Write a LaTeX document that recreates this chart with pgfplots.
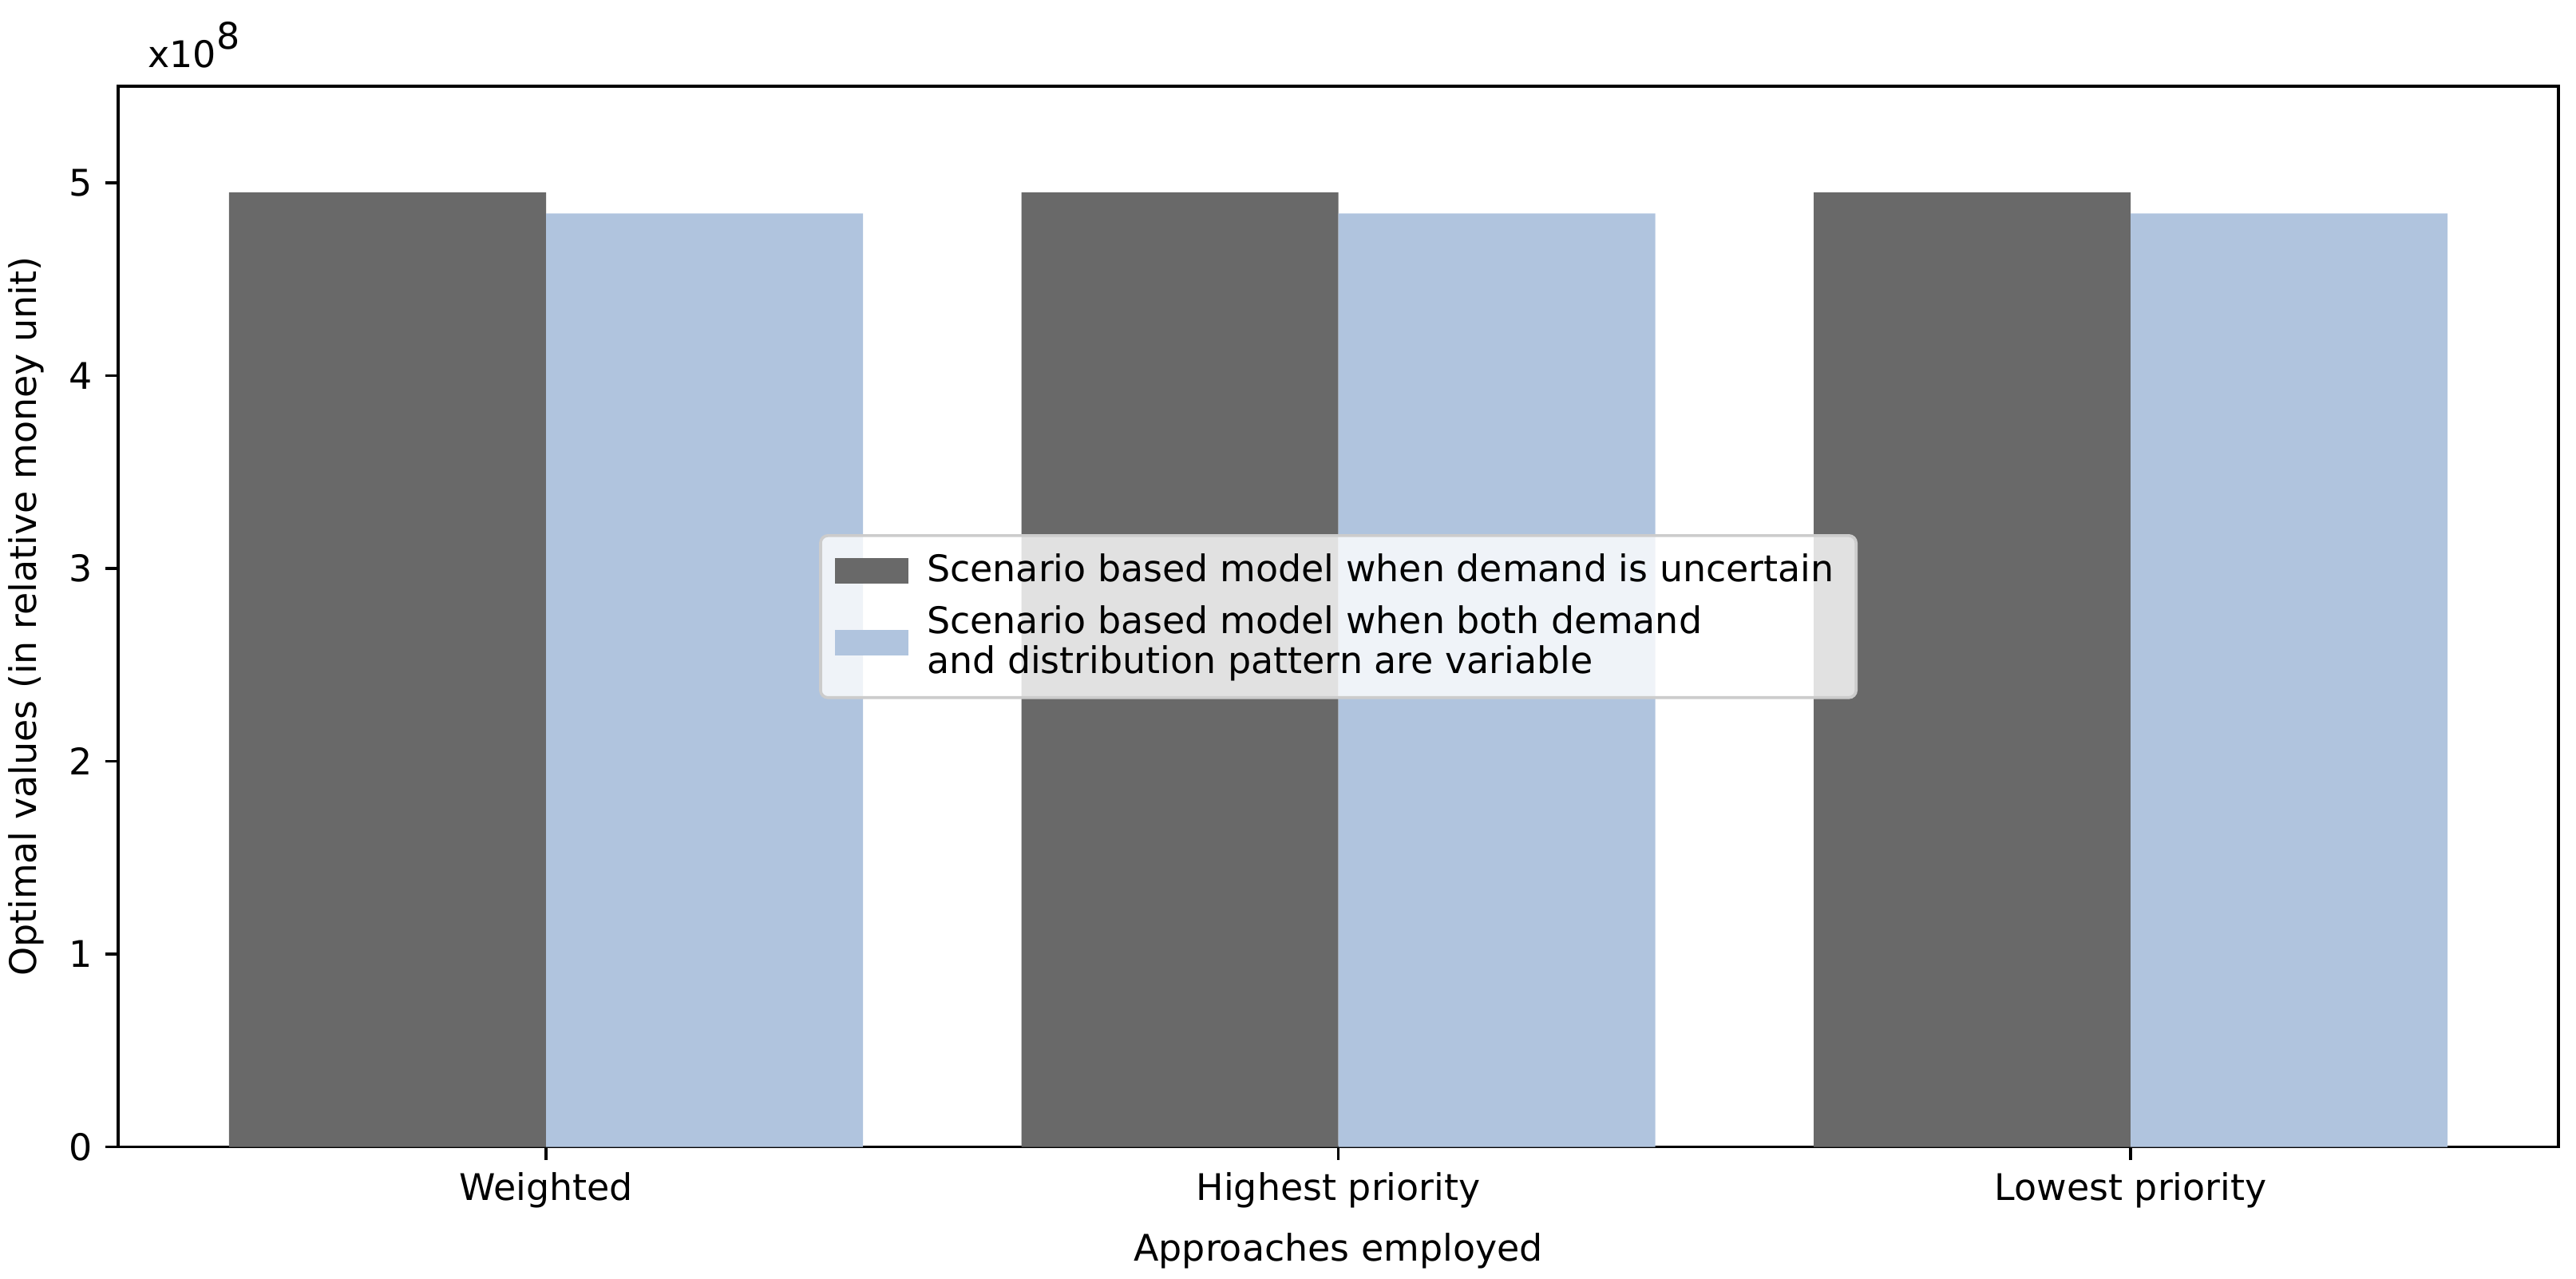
\documentclass[border=0pt]{standalone}
\usepackage{fontspec}
\setmainfont{DejaVu Sans}
\usepackage{pgfplots}
\pgfplotsset{compat=1.18}
\usetikzlibrary{calc}
\definecolor{darkbar}{HTML}{696969}
\definecolor{lightbar}{HTML}{B0C4DE}
\definecolor{legframe}{HTML}{CCCCCC}

\begin{document}
\begin{tikzpicture}
  \begin{axis}[
    scale only axis,
    width=23.40cm,
    height=10.17cm,
    xmin=-0.54, xmax=2.54,
    ymin=0, ymax=5.5e8,
    ytick={0,1e8,2e8,3e8,4e8,5e8},
    xtick={0,1,2},
    xticklabels={Weighted,Highest priority,Lowest priority},
    xtick pos=bottom, ytick pos=left,
    scaled y ticks=base 10:-8,
    ytick scale label code/.code={},
    tick align=outside,
    major tick length=3.5pt,
    tick style={line width=0.8pt, black},
    axis line style={line width=0.8pt},
    ticklabel style={font=\fontsize{10}{12}\selectfont},
    /pgf/number format/assume math mode=true,
    xlabel={Approaches employed},
    ylabel={Optimal values (in relative money unit)},
    label style={font=\fontsize{10}{12}\selectfont},
    ybar,
    bar width=0.4,
    legend style={
      at={(0.5,0.5)}, anchor=center,
      draw=legframe, fill=white, fill opacity=0.8, text opacity=1,
      rounded corners=2pt, line width=0.8pt,
      font=\fontsize{10}{11}\selectfont,
      cells={anchor=west, align=left},
      inner xsep=4pt, inner ysep=3pt,
      row sep=1pt,
      /tikz/every odd column/.append style={column sep=3pt},
    },
    legend cell align=left,
    legend image code/.code={\fill[#1, sharp corners, fill opacity=1] (0cm,-0.123cm) rectangle (0.703cm,0.123cm);},
  ]
    \addplot[fill=darkbar, draw=none, bar shift=-0.2] coordinates {
      (0,4.95e8) (1,4.95e8) (2,4.95e8)
    };
    \addlegendentry{Scenario based model when demand is uncertain}
    \addplot[fill=lightbar, draw=none, bar shift=0.2] coordinates {
      (0,4.84e8) (1,4.84e8) (2,4.84e8)
    };
    \addlegendentry{Scenario based model when both demand\\and distribution pattern are variable}

    \coordinate (SW) at (rel axis cs:0,0);
    \coordinate (NE) at (rel axis cs:1,1);
  \end{axis}
  \node[anchor=base west, inner sep=0pt, font=\fontsize{10}{12}\selectfont]
    at ($(SW|-NE)+(0.28cm,0.18cm)$) {x10\raisebox{0.5em}{8}};
  \pgfresetboundingbox
  \path ($(SW)+(-1.133cm,-1.263cm)$) rectangle ($(NE)+(0.168cm,0.827cm)$);
\end{tikzpicture}
\end{document}
